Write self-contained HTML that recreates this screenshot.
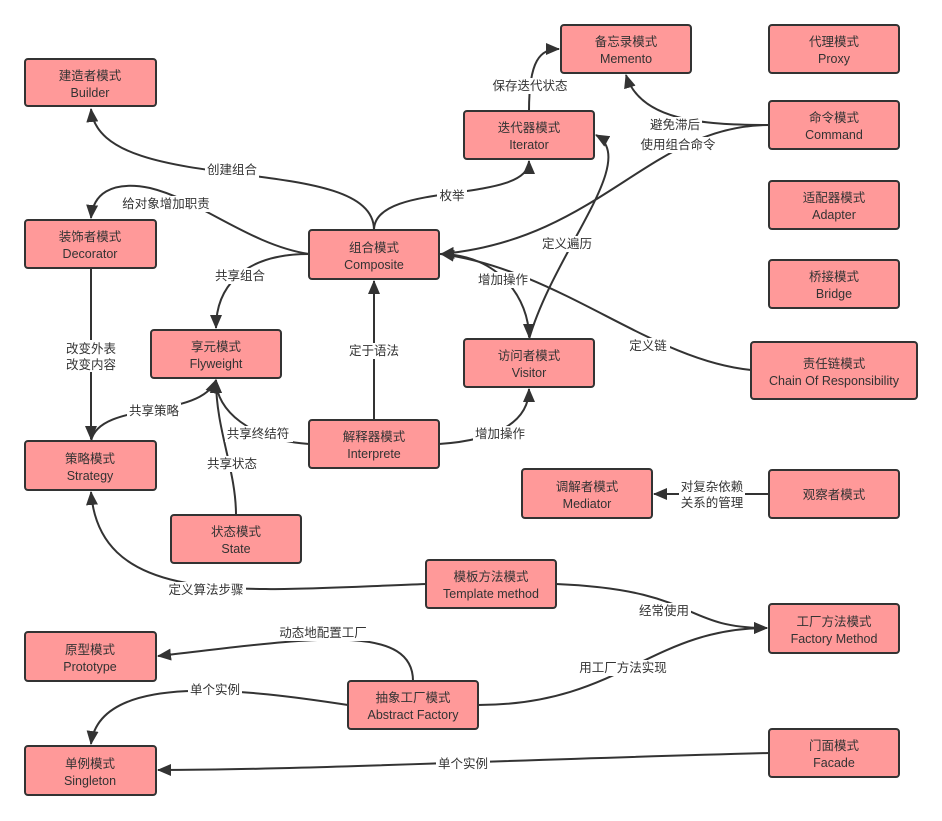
<!DOCTYPE html>
<html><head><meta charset="utf-8"><style>
html,body{margin:0;padding:0;background:#fff;}
svg{display:block;}
text{font-family:"Liberation Sans","Noto Sans CJK SC",sans-serif;font-size:12.5px;fill:#333;text-anchor:middle;}
.n rect{fill:#ff9999;stroke:#333;stroke-width:2;}
.n text{font-size:12.5px;}
path.e{fill:none;stroke:#333;stroke-width:2;}
.lb{fill:#fff;}
</style></head><body>
<svg width="942" height="821" viewBox="0 0 942 821" xmlns="http://www.w3.org/2000/svg">
<defs>
<marker id="b" viewBox="0 0 14 12" refX="13" refY="6" markerWidth="14" markerHeight="12" orient="auto" markerUnits="userSpaceOnUse"><path d="M0,0 L14,6 L0,12 z" fill="#333"/></marker></defs>

<g marker-end="url(#b)">
<path class="e" d="M374,230 C374,150 100,200 91,109"/>
<path class="e" d="M374,230 C374,180 529,205 529,161"/>
<path class="e" d="M309,254 C250,245 200,200 150,188 C110,180 93,195 91,218"/>
<path class="e" d="M309,254 C240,254 216,290 216,328"/>
<path class="e" d="M374,420 L374,281"/>
<path class="e" d="M439,444 C500,440 529,420 529,389"/>
<path class="e" d="M439,254 C500,254 529,300 529,337"/>
<path class="e" d="M529,339 C555,250 640,160 596,135"/>
<path class="e" d="M769,125 C650,125 600,240 441,254"/>
<path class="e" d="M751,370 C650,360 560,270 441,254"/>
<path class="e" d="M769,125 C700,125 640,120 626,75"/>
<path class="e" d="M529,111 C529,60 540,49 559,49"/>
<path class="e" d="M91,268 L91,439"/>
<path class="e" d="M91,441 C100,400 200,420 216,380"/>
<path class="e" d="M309,444 C250,440 216,410 216,380"/>
<path class="e" d="M236,515 C236,470 216,430 216,380"/>
<path class="e" d="M426,584 C250,590 100,610 91,492"/>
<path class="e" d="M556,584 C700,590 680,628 767,628"/>
<path class="e" d="M478,705 C620,705 650,628 767,628"/>
<path class="e" d="M413,681 C413,620 300,640 158,656"/>
<path class="e" d="M348,705 C250,690 100,670 91,744"/>
<path class="e" d="M769,753 C500,760 300,770 158,770"/>
<path class="e" d="M769,494 L654,494"/>
</g>

<g>
<rect class="lb" x="205" y="162" width="54" height="16"/><text x="232" y="174">创建组合</text>
<rect class="lb" x="437" y="188" width="30" height="16"/><text x="452" y="200">枚举</text>
<rect class="lb" x="117" y="196" width="98" height="16"/><text x="166" y="208">给对象增加职责</text>
<rect class="lb" x="213" y="268" width="54" height="16"/><text x="240" y="280">共享组合</text>
<rect class="lb" x="347" y="343" width="54" height="16"/><text x="374" y="355">定于语法</text>
<rect class="lb" x="473" y="426" width="54" height="16"/><text x="500" y="438">增加操作</text>
<rect class="lb" x="476" y="272" width="54" height="16"/><text x="503" y="284">增加操作</text>
<rect class="lb" x="540" y="236" width="54" height="16"/><text x="567" y="248">定义遍历</text>
<rect class="lb" x="638" y="137" width="80" height="16"/><text x="678" y="149">使用组合命令</text>
<rect class="lb" x="628" y="338" width="42" height="16"/><text x="648" y="350">定义链</text>
<rect class="lb" x="648" y="117" width="54" height="16"/><text x="675" y="129">避免滞后</text>
<rect class="lb" x="490" y="78" width="80" height="16"/><text x="530" y="90">保存迭代状态</text>
<rect class="lb" x="63" y="340" width="56" height="32"/><text x="91" y="353">改变外表</text><text x="91" y="369">改变内容</text>
<rect class="lb" x="127" y="403" width="54" height="16"/><text x="154" y="415">共享策略</text>
<rect class="lb" x="225" y="426" width="68" height="16"/><text x="258" y="438">共享终结符</text>
<rect class="lb" x="205" y="456" width="54" height="16"/><text x="232" y="468">共享状态</text>
<rect class="lb" x="166" y="582" width="80" height="16"/><text x="206" y="594">定义算法步骤</text>
<rect class="lb" x="637" y="603" width="54" height="16"/><text x="664" y="615">经常使用</text>
<rect class="lb" x="577" y="660" width="92" height="16"/><text x="623" y="672">用工厂方法实现</text>
<rect class="lb" x="277" y="625" width="92" height="16"/><text x="323" y="637">动态地配置工厂</text>
<rect class="lb" x="188" y="682" width="54" height="16"/><text x="215" y="694">单个实例</text>
<rect class="lb" x="436" y="756" width="54" height="16"/><text x="463" y="768">单个实例</text>
<rect class="lb" x="679" y="478" width="66" height="32"/><text x="712" y="491">对复杂依赖</text><text x="712" y="507">关系的管理</text>
</g>

<g class="n">
<rect x="561" y="25" width="130" height="48" rx="3"/><text x="626" y="46">备忘录模式</text><text x="626" y="63">Memento</text>
<rect x="769" y="25" width="130" height="48" rx="3"/><text x="834" y="46">代理模式</text><text x="834" y="63">Proxy</text>
<rect x="25" y="59" width="131" height="47" rx="3"/><text x="90" y="80">建造者模式</text><text x="90" y="97">Builder</text>
<rect x="464" y="111" width="130" height="48" rx="3"/><text x="529" y="132">迭代器模式</text><text x="529" y="149">Iterator</text>
<rect x="769" y="101" width="130" height="48" rx="3"/><text x="834" y="122">命令模式</text><text x="834" y="139">Command</text>
<rect x="769" y="181" width="130" height="48" rx="3"/><text x="834" y="202">适配器模式</text><text x="834" y="219">Adapter</text>
<rect x="25" y="220" width="131" height="48" rx="3"/><text x="90" y="241">装饰者模式</text><text x="90" y="258">Decorator</text>
<rect x="309" y="230" width="130" height="49" rx="3"/><text x="374" y="252">组合模式</text><text x="374" y="269">Composite</text>
<rect x="769" y="260" width="130" height="48" rx="3"/><text x="834" y="281">桥接模式</text><text x="834" y="298">Bridge</text>
<rect x="151" y="330" width="130" height="48" rx="3"/><text x="216" y="351">享元模式</text><text x="216" y="368">Flyweight</text>
<rect x="464" y="339" width="130" height="48" rx="3"/><text x="529" y="360">访问者模式</text><text x="529" y="377">Visitor</text>
<rect x="751" y="342" width="166" height="57" rx="3"/><text x="834" y="368">责任链模式</text><text x="834" y="385">Chain Of Responsibility</text>
<rect x="309" y="420" width="130" height="48" rx="3"/><text x="374" y="441">解释器模式</text><text x="374" y="458">Interprete</text>
<rect x="25" y="441" width="131" height="49" rx="3"/><text x="90" y="463">策略模式</text><text x="90" y="480">Strategy</text>
<rect x="522" y="469" width="130" height="49" rx="3"/><text x="587" y="491">调解者模式</text><text x="587" y="508">Mediator</text>
<rect x="769" y="470" width="130" height="48" rx="3"/><text x="834" y="499">观察者模式</text>
<rect x="171" y="515" width="130" height="48" rx="3"/><text x="236" y="536">状态模式</text><text x="236" y="553">State</text>
<rect x="426" y="560" width="130" height="48" rx="3"/><text x="491" y="581">模板方法模式</text><text x="491" y="598">Template method</text>
<rect x="769" y="604" width="130" height="49" rx="3"/><text x="834" y="626">工厂方法模式</text><text x="834" y="643">Factory Method</text>
<rect x="25" y="632" width="131" height="49" rx="3"/><text x="90" y="654">原型模式</text><text x="90" y="671">Prototype</text>
<rect x="348" y="681" width="130" height="48" rx="3"/><text x="413" y="702">抽象工厂模式</text><text x="413" y="719">Abstract Factory</text>
<rect x="25" y="746" width="131" height="49" rx="3"/><text x="90" y="768">单例模式</text><text x="90" y="785">Singleton</text>
<rect x="769" y="729" width="130" height="48" rx="3"/><text x="834" y="750">门面模式</text><text x="834" y="767">Facade</text>
</g>
</svg>
</body></html>
